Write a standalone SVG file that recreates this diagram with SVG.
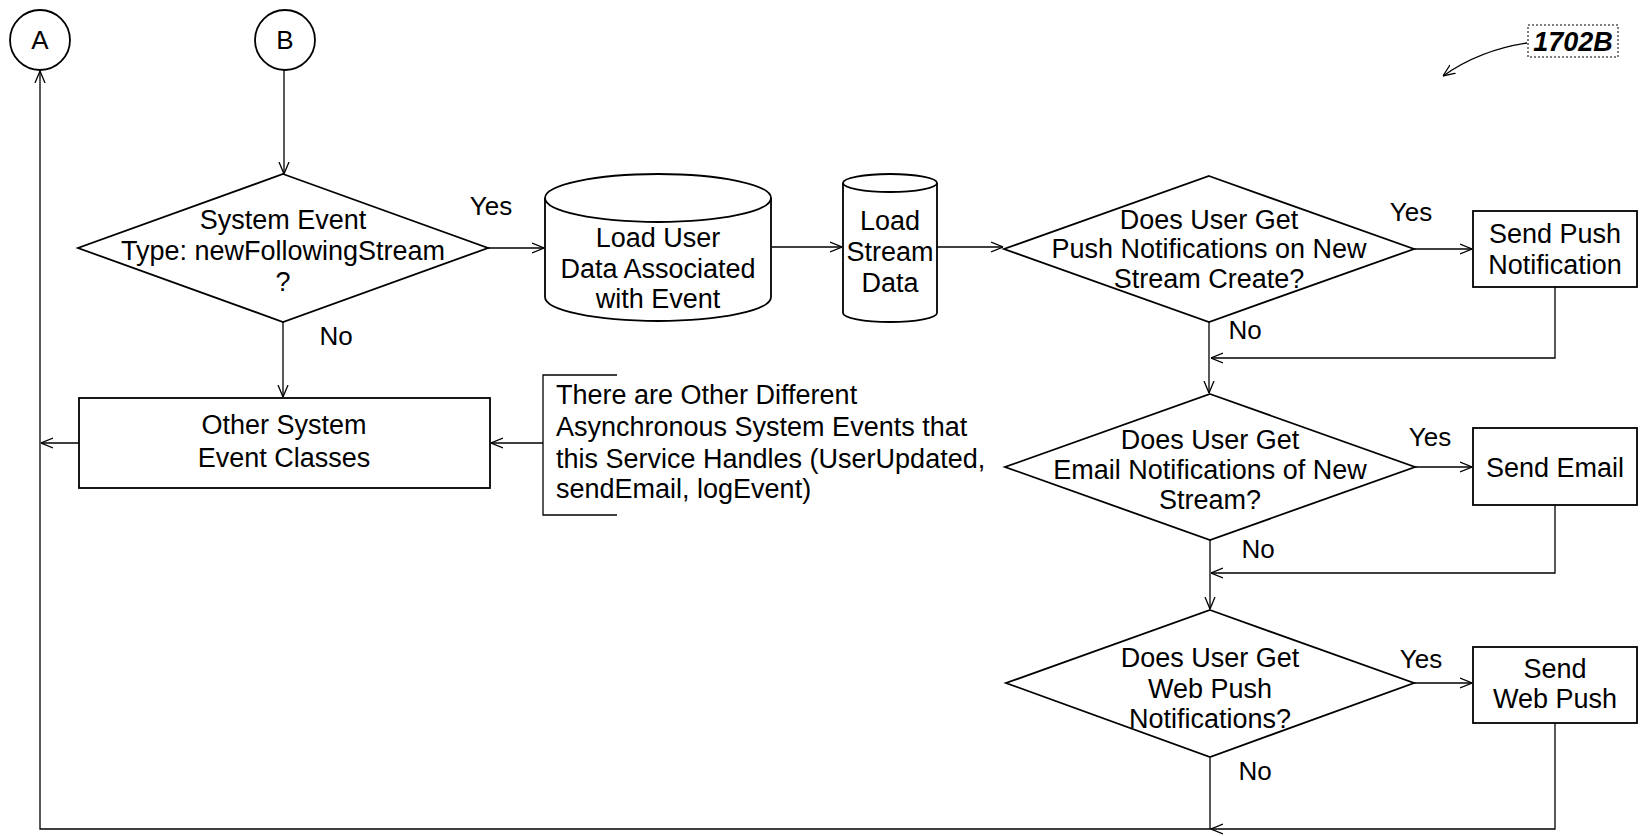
<svg xmlns="http://www.w3.org/2000/svg" width="1648" height="836" viewBox="0 0 1648 836">
<style>
.s{fill:#fff;stroke:#000;stroke-width:1.8}
.c{fill:none;stroke:#000;stroke-width:1.3}
text{font-family:"Liberation Sans",Arial,sans-serif;font-size:27px;fill:#000}
.m{text-anchor:middle}
.l{font-size:26px}
</style>
<defs>
<marker id="arr" viewBox="0 0 12 12" refX="12" refY="6" markerWidth="12" markerHeight="12" markerUnits="userSpaceOnUse" orient="auto">
<path d="M0,1 L12,6 L0,11" fill="none" stroke="#000" stroke-width="1.3"/>
</marker>
</defs>
<rect width="1648" height="836" fill="#fff"/>

<g id="connectors">
<path class="c" d="M284,70 V174" marker-end="url(#arr)"/>
<path class="c" d="M488,248 H544" marker-end="url(#arr)"/>
<path class="c" d="M772,247 H842" marker-end="url(#arr)"/>
<path class="c" d="M937,247 H1003" marker-end="url(#arr)"/>
<path class="c" d="M1414,249 H1472" marker-end="url(#arr)"/>
<path class="c" d="M1209,322 V393" marker-end="url(#arr)"/>
<path class="c" d="M1555,287 V358 H1211" marker-end="url(#arr)"/>
<path class="c" d="M1415,467 H1472" marker-end="url(#arr)"/>
<path class="c" d="M1210,540 V609" marker-end="url(#arr)"/>
<path class="c" d="M1555,505 V573 H1211" marker-end="url(#arr)"/>
<path class="c" d="M1414,683 H1472" marker-end="url(#arr)"/>
<path class="c" d="M1210,758 V829"/>
<path class="c" d="M1555,723 V829 H1211" marker-end="url(#arr)"/>
<path class="c" d="M1211,829 H40 V71" marker-end="url(#arr)"/>
<path class="c" d="M283,322 V397" marker-end="url(#arr)"/>
<path class="c" d="M79,443 H41" marker-end="url(#arr)"/>
<path class="c" d="M543,443 H491" marker-end="url(#arr)"/>
<path class="c" d="M1527,43 Q1480,50 1443,76" marker-end="url(#arr)"/>
</g>

<g id="labels">
<text class="m l" x="491" y="215">Yes</text>
<text class="m l" x="336" y="345">No</text>
<text class="m l" x="1411" y="221">Yes</text>
<text class="m l" x="1245" y="339">No</text>
<text class="m l" x="1430" y="446">Yes</text>
<text class="m l" x="1258" y="558">No</text>
<text class="m l" x="1421" y="668">Yes</text>
<text class="m l" x="1255" y="780">No</text>
</g>

<g id="A">
<circle class="s" cx="40" cy="40" r="30"/>
<text class="m l" x="40" y="49">A</text>
</g>
<g id="B">
<circle class="s" cx="285" cy="40" r="30"/>
<text class="m l" x="285" y="49">B</text>
</g>

<g id="d1">
<polygon class="s" points="283,174 488,248 283,322 78,248"/>
<text class="m" x="283" y="229">System Event</text>
<text class="m" x="283" y="260">Type: newFollowingStream</text>
<text class="m" x="283" y="291">?</text>
</g>

<g id="cyl1">
<path class="s" d="M545,198 V297 A113,24 0 0 0 771,297 V198"/>
<ellipse class="s" cx="658" cy="198" rx="113" ry="24"/>
<text class="m" x="658" y="247">Load User</text>
<text class="m" x="658" y="278">Data Associated</text>
<text class="m" x="658" y="308">with Event</text>
</g>

<g id="cyl2">
<path class="s" d="M843,183 V313 A47,9 0 0 0 937,313 V183"/>
<ellipse class="s" cx="890" cy="183" rx="47" ry="9"/>
<text class="m" x="890" y="230">Load</text>
<text class="m" x="890" y="261">Stream</text>
<text class="m" x="890" y="292">Data</text>
</g>

<g id="d2">
<polygon class="s" points="1209,176 1414,249 1209,322 1004,249"/>
<text class="m" x="1209" y="229">Does User Get</text>
<text class="m" x="1209" y="258">Push Notifications on New</text>
<text class="m" x="1209" y="288">Stream Create?</text>
</g>

<g id="sendpush">
<rect class="s" x="1473" y="211" width="164" height="76"/>
<text class="m" x="1555" y="243">Send Push</text>
<text class="m" x="1555" y="274">Notification</text>
</g>

<g id="d3">
<polygon class="s" points="1210,394 1415,467 1210,540 1005,467"/>
<text class="m" x="1210" y="449">Does User Get</text>
<text class="m" x="1210" y="479">Email Notifications of New</text>
<text class="m" x="1210" y="509">Stream?</text>
</g>

<g id="sendemail">
<rect class="s" x="1473" y="428" width="164" height="77"/>
<text class="m" x="1555" y="477">Send Email</text>
</g>

<g id="d4">
<polygon class="s" points="1210,610 1414,683 1210,757 1006,683"/>
<text class="m" x="1210" y="667">Does User Get</text>
<text class="m" x="1210" y="698">Web Push</text>
<text class="m" x="1210" y="728">Notifications?</text>
</g>

<g id="sendwebpush">
<rect class="s" x="1473" y="647" width="164" height="76"/>
<text class="m" x="1555" y="678">Send</text>
<text class="m" x="1555" y="708">Web Push</text>
</g>

<g id="other">
<rect class="s" x="79" y="398" width="411" height="90"/>
<text class="m" x="284" y="434">Other System</text>
<text class="m" x="284" y="467">Event Classes</text>
</g>

<g id="note">
<path class="c" d="M617,375 H543 V515 H617"/>
<text x="556" y="404">There are Other Different</text>
<text x="556" y="436">Asynchronous System Events that</text>
<text x="556" y="468">this Service Handles (UserUpdated,</text>
<text x="556" y="498">sendEmail, logEvent)</text>
</g>

<g id="ref">
<rect x="1528" y="25" width="90" height="32" fill="none" stroke="#000" stroke-width="1" stroke-dasharray="2,2"/>
<text class="m" x="1573" y="51" style="font-style:italic;font-weight:bold;font-size:27px">1702B</text>
</g>
</svg>
